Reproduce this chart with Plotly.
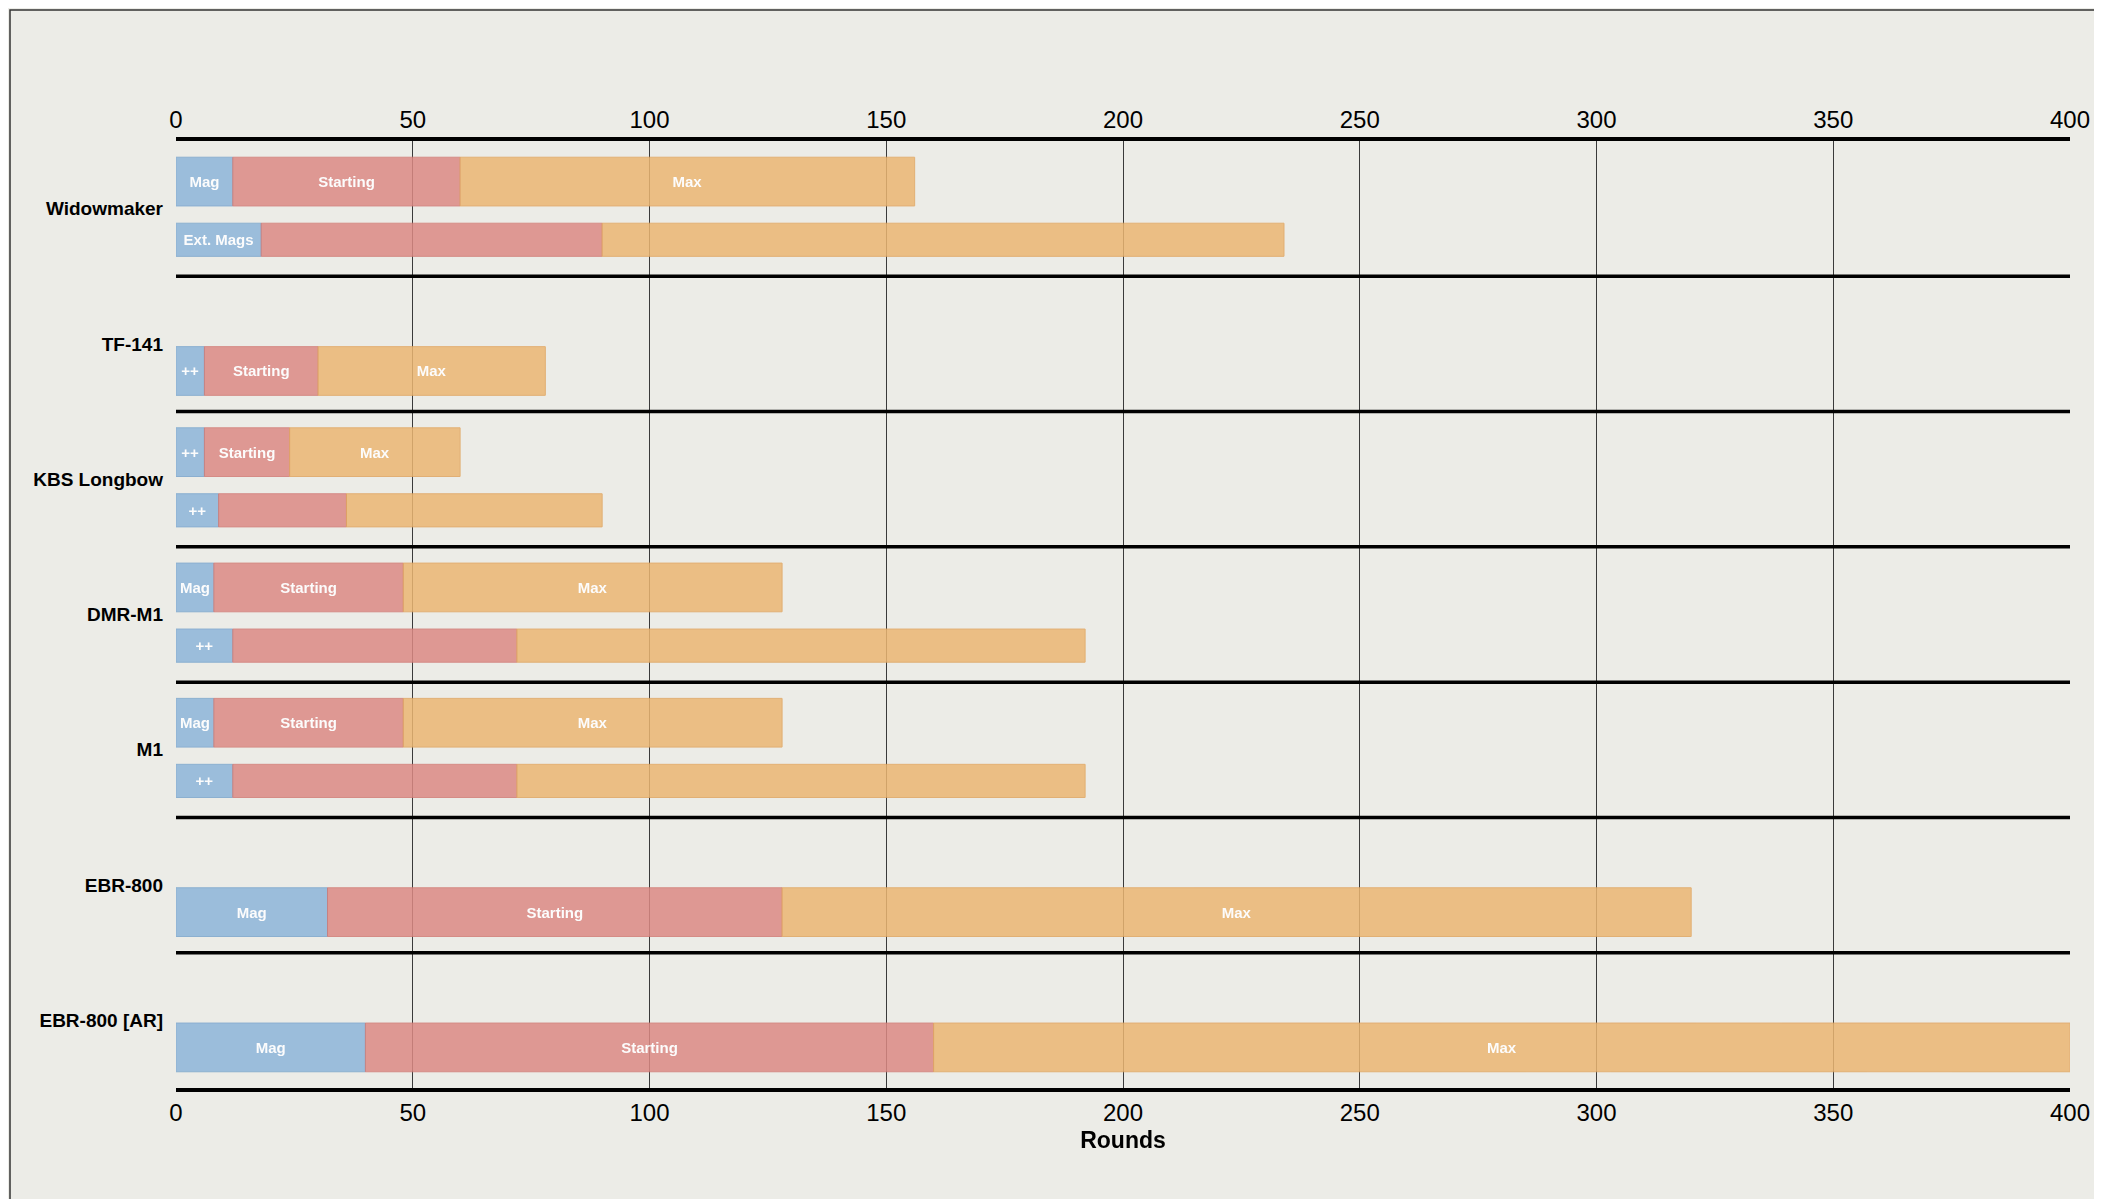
import plotly.graph_objects as go

# weapons, top to bottom
weapons = ["Widowmaker", "TF-141", "KBS Longbow", "DMR-M1", "M1", "EBR-800", "EBR-800 [AR]"]

# upper row (None = no upper row): mag size, starting ammo, max ammo (cumulative rounds)
top_mag = [12, None, 6, 8, 8, None, None]
top_start = [60, None, 24, 48, 48, None, None]
top_max = [156, None, 60, 128, 128, None, None]
top_first = ["Mag", None, "++", "Mag", "Mag", None, None]

# lower row
bot_mag = [18, 6, 9, 12, 12, 32, 40]
bot_start = [90, 30, 36, 72, 72, 128, 160]
bot_max = [234, 78, 90, 192, 192, 320, 400]
bot_first = ["Ext. Mags", "++", "++", "++", "++", "Mag", "Mag"]

ticks = [0, 50, 100, 150, 200, 250, 300, 350, 400]

colors = ["#8db5d9", "#dc8a84", "#ebb672"]
edges = ["#7aa5cc", "#d17a74", "#e0a560"]

ys, lens, bases, texts, widths, seg = [], [], [], [], [], []
for i in range(len(weapons)):
    has_top = top_mag[i] is not None
    if has_top:
        vals = [0, top_mag[i], top_start[i], top_max[i]]
        labels = [top_first[i], "Starting", "Max"]
        for k in range(3):
            ys.append(i + 0.30); bases.append(vals[k]); lens.append(vals[k + 1] - vals[k])
            texts.append(labels[k]); widths.append(0.36); seg.append(k)
    vals = [0, bot_mag[i], bot_start[i], bot_max[i]]
    labels = [bot_first[i], "" if has_top else "Starting", "" if has_top else "Max"]
    for k in range(3):
        ys.append(i + (0.73 if has_top else 0.70)); bases.append(vals[k]); lens.append(vals[k + 1] - vals[k])
        texts.append(labels[k]); widths.append(0.245 if has_top else 0.36); seg.append(k)

fig = go.Figure()
for k in range(3):
    idx = [j for j in range(len(ys)) if seg[j] == k]
    fig.add_trace(go.Bar(
        orientation="h",
        y=[ys[j] for j in idx], x=[lens[j] for j in idx], base=[bases[j] for j in idx],
        width=[widths[j] for j in idx], text=[texts[j] for j in idx],
        textposition="inside", insidetextanchor="middle", textangle=0,
        textfont=dict(color="white", size=15, family="Liberation Sans"),
        texttemplate="<b>%{text}</b>", constraintext="none",
        marker=dict(color=colors[k], line=dict(color=edges[k], width=1)),
        opacity=0.85, showlegend=False, hoverinfo="skip",
    ))
fig.add_trace(go.Scatter(x=[0], y=[0], xaxis="x2", mode="markers",
                         marker=dict(opacity=0), showlegend=False, hoverinfo="skip"))

shapes = []
for b in range(1, len(weapons)):
    shapes.append(dict(type="line", xref="paper", yref="y", x0=0, x1=1, y0=b, y1=b,
                       line=dict(color="black", width=3.5)))
shapes.append(dict(type="rect", xref="paper", yref="paper",
                   x0=-166 / 1894, x1=1 + 38 / 1894, y0=-117 / 947, y1=1 + 131 / 947,
                   line=dict(color="#333", width=1.5)))

axis_common = dict(range=[0, 400], tickvals=ticks, showgrid=True, gridcolor="#3a3a3a",
                   gridwidth=1, zeroline=False, ticks="",
                   showline=True, linecolor="black", linewidth=3.5,
                   tickfont=dict(size=24, color="black", family="Liberation Sans"))
fig.update_layout(
    width=2102, height=1199,
    margin=dict(l=168, r=40, t=133, b=119),
    paper_bgcolor="#ecece7", plot_bgcolor="#ecece7",
    barmode="overlay",
    font=dict(family="Liberation Sans", color="black"),
    xaxis=dict(**axis_common, title=dict(text="<b>Rounds</b>", font=dict(size=23), standoff=8)),
    xaxis2=dict(**axis_common, overlaying="x", side="top"),
    yaxis=dict(range=[len(weapons), 0], tickvals=[i + 0.5 for i in range(len(weapons))],
               ticktext=["<b>%s</b>" % w for w in weapons], showgrid=False, zeroline=False,
               tickfont=dict(size=19), ticks="", ticklabelstandoff=12),
    shapes=shapes,
)
fig.write_html("out.html")
